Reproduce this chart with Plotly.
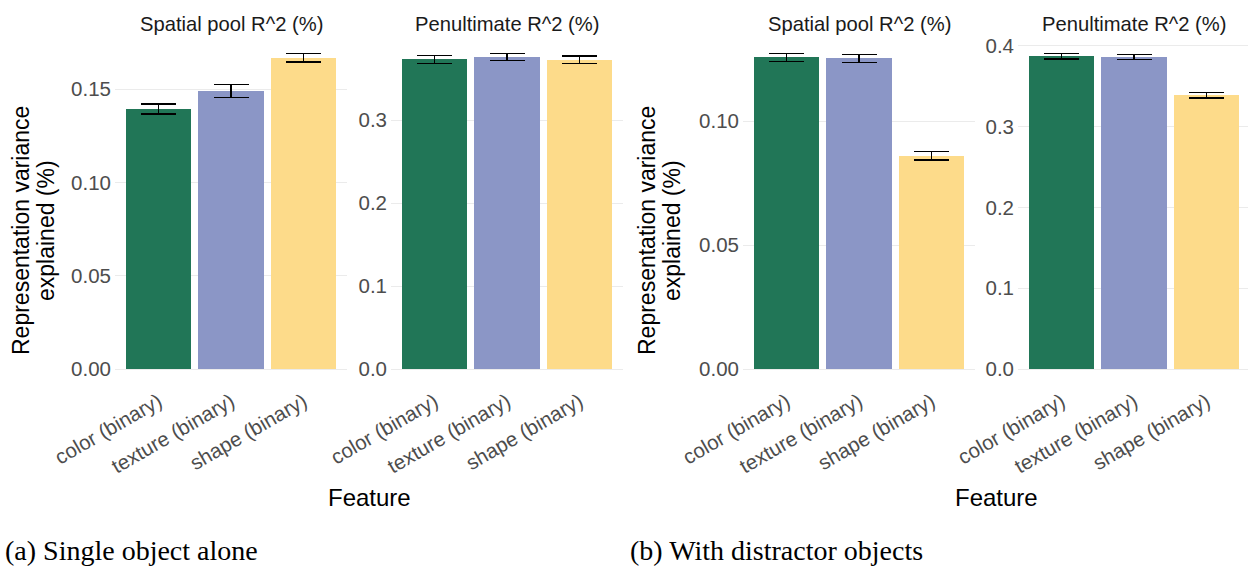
import plotly.graph_objects as go

W, H = 1248, 567

features = ["color (binary)", "texture (binary)", "shape (binary)"]
colors = ["#217657", "#8B96C6", "#FDDB8A"]

a_spatial = [0.1393, 0.1490, 0.1667]
a_spatial_err = [0.0027, 0.0035, 0.0022]
a_penult = [0.3733, 0.3759, 0.3725]
a_penult_err = [0.0048, 0.0040, 0.0046]
b_spatial = [0.1257, 0.1254, 0.0861]
b_spatial_err = [0.0015, 0.0016, 0.0017]
b_penult = [0.3864, 0.3856, 0.3383]
b_penult_err = [0.0033, 0.0033, 0.0033]

strip_titles = ["Spatial pool R^2 (%)", "Penultimate R^2 (%)",
                "Spatial pool R^2 (%)", "Penultimate R^2 (%)"]
captions = ["(a) Single object alone", "(b) With distractor objects"]
ytitle = ["Representation variance", "explained (%)"]
xtitle = "Feature"

panels = [
    (a_spatial, a_spatial_err, 0.05, ".2f"),
    (a_penult, a_penult_err, 0.1, ".1f"),
    (b_spatial, b_spatial_err, 0.05, ".2f"),
    (b_penult, b_penult_err, 0.1, ".1f"),
]

# pixel layout
xdom_px = [(115, 347), (391, 623), (743, 975), (1018, 1248)]
ytop_px, ybot_px = 38, 385


def px(x):
    return x / W


def py(y):
    return 1 - y / H


fig = go.Figure()
TICK_FONT = dict(family="Liberation Sans, Arial, sans-serif", size=20.5, color="#4D4D4D")
TITLE_FONT = dict(family="Liberation Sans, Arial, sans-serif", size=24, color="#000000")
YTITLE_FONT = dict(family="Liberation Sans, Arial, sans-serif", size=23, color="#000000")
STRIP_FONT = dict(family="Liberation Sans, Arial, sans-serif", size=20.2, color="#1A1A1A")

unit_px = 232 / 3.2
for i, (vals, errs, dt, fmt) in enumerate(panels):
    n = i + 1
    xa = "x" if n == 1 else f"x{n}"
    ya = "y" if n == 1 else f"y{n}"
    fig.add_trace(go.Bar(
        x=features, y=vals, marker=dict(color=colors, line=dict(width=0)),
        width=0.9,
        error_y=dict(type="data", array=errs, visible=True, color="#000000",
                     thickness=1.4, width=17.5),
        xaxis=xa, yaxis=ya, showlegend=False, hoverinfo="skip",
    ))
    top = max(v + e for v, e in zip(vals, errs))
    ymin, ymax = -0.05 * top, top * 1.05
    x0, x1 = xdom_px[i]
    width_units = (x1 - x0) / unit_px
    xr = [-0.6, -0.6 + width_units]
    tick_vals = []
    t = 0.0
    while t <= ymax + 1e-9:
        tick_vals.append(round(t, 4))
        t += dt
    fig.layout[f"xaxis{'' if n == 1 else n}"] = dict(
        domain=[px(x0), min(1.0, px(x1))], anchor=ya, range=xr,
        showgrid=False, zeroline=False, showline=False, ticks="",
        tickangle=-30, tickfont=TICK_FONT, type="category",
        categoryorder="array", categoryarray=features, automargin=False,
    )
    fig.layout[f"yaxis{'' if n == 1 else n}"] = dict(
        domain=[py(ybot_px), py(ytop_px)], anchor=xa, range=[ymin, ymax],
        showgrid=True, gridcolor="#EBEBEB", gridwidth=1, zeroline=False,
        showline=False, ticks="", tickvals=tick_vals, tickformat=fmt,
        tickfont=TICK_FONT, ticklabelstandoff=3, automargin=False,
    )

annotations = []
for i, title in enumerate(strip_titles):
    x0, x1 = xdom_px[i]
    cx = (x0 + x1) / 2 if i < 3 else (x0 + 1251) / 2
    annotations.append(dict(text=title, x=px(cx),
                            y=py(23.5), xref="paper", yref="paper",
                            xanchor="center", yanchor="middle", showarrow=False,
                            font=STRIP_FONT))

for off in (0, 626):
    annotations.append(dict(text=ytitle[0], x=px(21 + off), y=py(231), xref="paper", yref="paper",
                            textangle=-90, xanchor="center", yanchor="middle",
                            showarrow=False, font=YTITLE_FONT))
    annotations.append(dict(text=ytitle[1], x=px(46 + off), y=py(231), xref="paper", yref="paper",
                            textangle=-90, xanchor="center", yanchor="middle",
                            showarrow=False, font=YTITLE_FONT))

annotations.append(dict(text=xtitle, x=px(369), y=py(497), xref="paper", yref="paper",
                        xanchor="center", yanchor="middle", showarrow=False, font=TITLE_FONT))
annotations.append(dict(text=xtitle, x=px(996), y=py(497), xref="paper", yref="paper",
                        xanchor="center", yanchor="middle", showarrow=False, font=TITLE_FONT))

CAP_FONT = dict(family="Liberation Serif, Times New Roman, serif", size=28, color="#000000")
annotations.append(dict(text=captions[0], x=px(3), y=py(550), xref="paper", yref="paper",
                        xanchor="left", yanchor="middle", showarrow=False, font=CAP_FONT))
annotations.append(dict(text=captions[1], x=px(628), y=py(550), xref="paper", yref="paper",
                        xanchor="left", yanchor="middle", showarrow=False, font=CAP_FONT))

fig.update_layout(
    width=W, height=H, margin=dict(l=0, r=0, t=0, b=0, autoexpand=False),
    paper_bgcolor="white", plot_bgcolor="white",
    annotations=annotations, showlegend=False, bargap=0,
)

fig.write_html("out.html", config={"displayModeBar": False},
               post_script="document.body.style.margin='0';document.body.style.padding='0';document.body.style.overflow='hidden';")
